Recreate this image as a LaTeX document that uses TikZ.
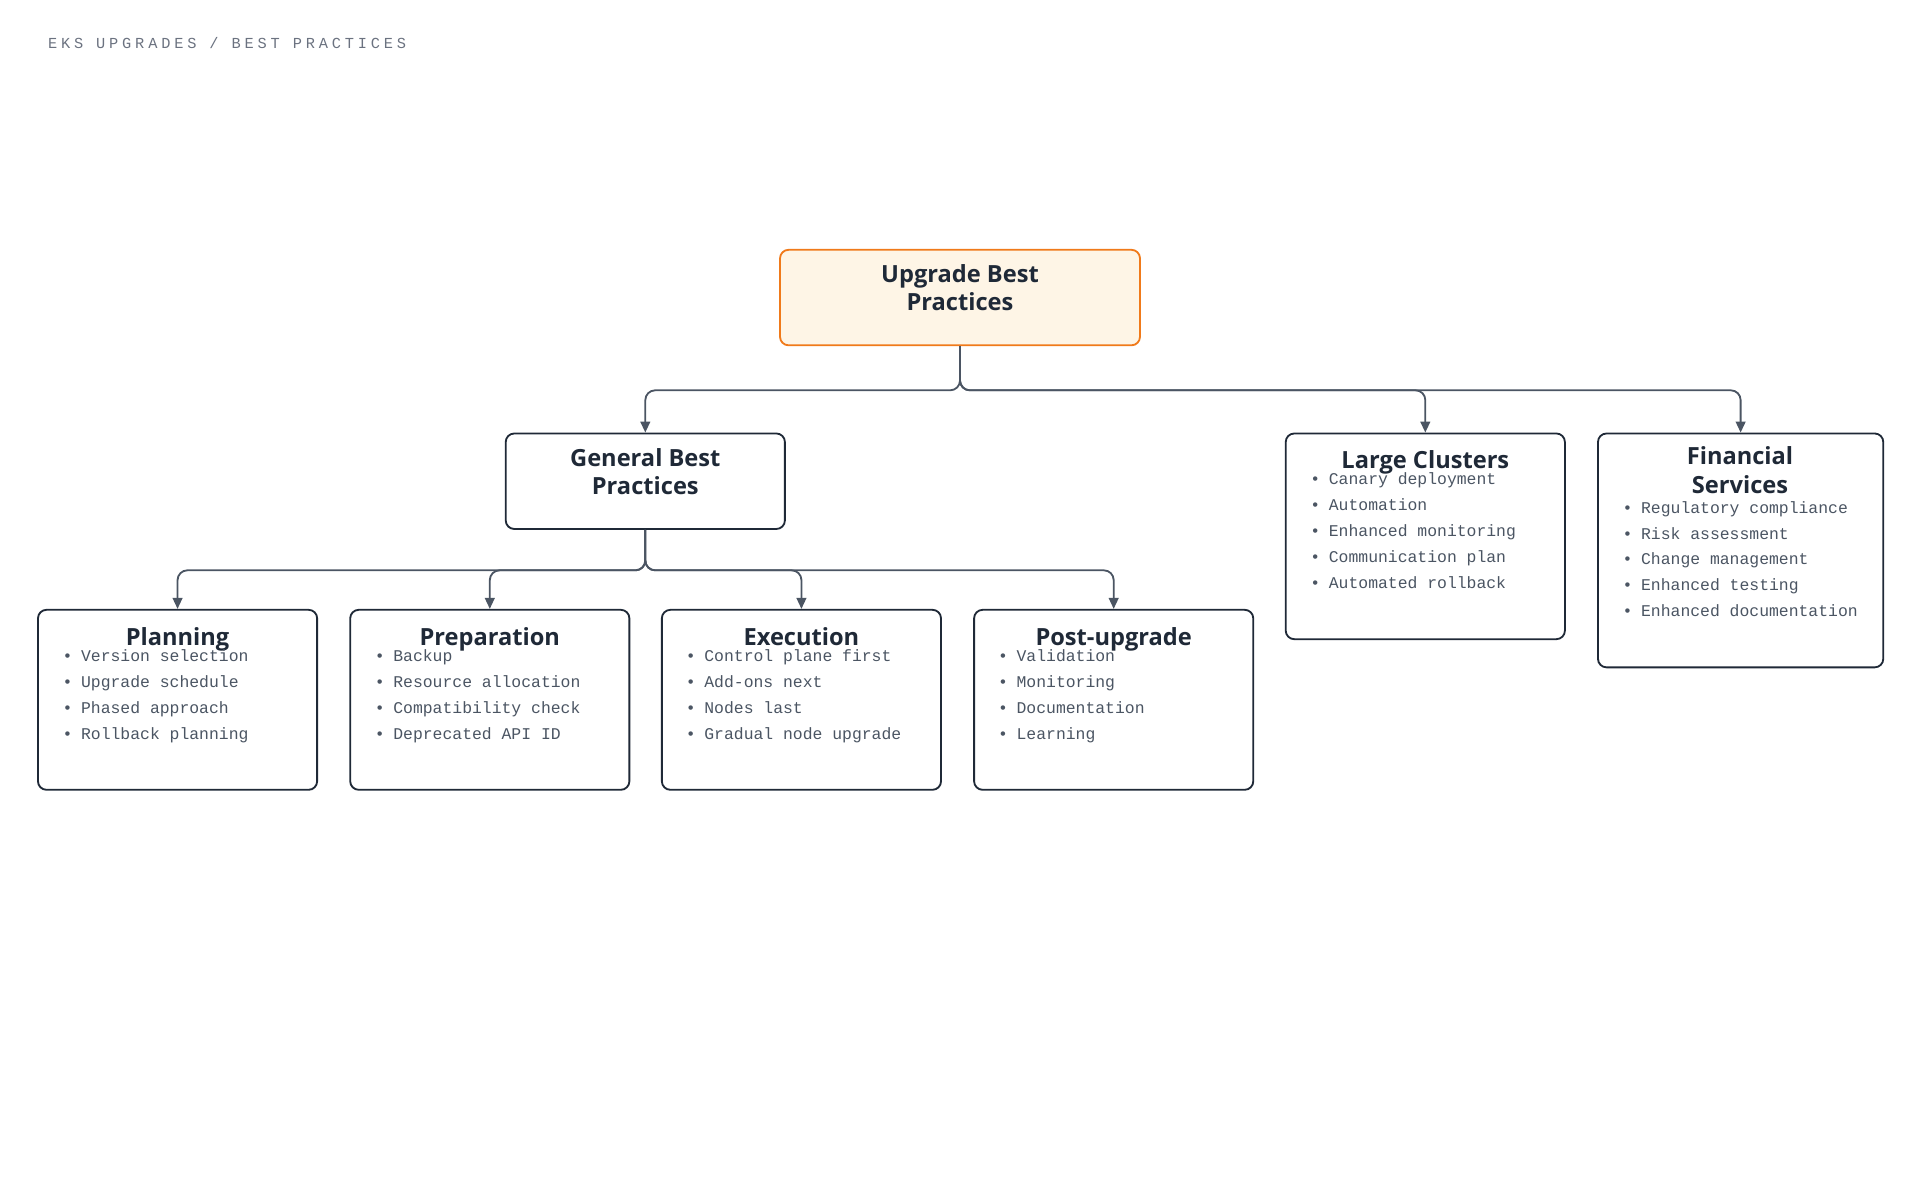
\documentclass[tikz,border=0pt]{standalone}
\usepackage{fontspec}
\setmainfont{Open Sans}
\newfontfamily\monof{Liberation Mono}
\newfontfamily\hdrf{Liberation Mono}[LetterSpace=25]
\usetikzlibrary{arrows.meta}
\definecolor{ink}{HTML}{1F2937}
\definecolor{lnk}{HTML}{4B5563}
\definecolor{txt}{HTML}{4B5563}
\definecolor{hdr}{HTML}{6B7280}
\definecolor{org}{HTML}{F07A1A}
\definecolor{orgfill}{HTML}{FEF5E6}
\begin{document}
\begin{tikzpicture}[x=1pt,y=-1pt,
  box/.style={draw=ink,line width=1.5pt,rounded corners=7pt,fill=white,inner sep=0pt},
  root/.style={box,draw=org,fill=orgfill},
  ttl/.style={font=\bfseries\fontsize{19.3}{23}\selectfont,text=ink,align=center,inner sep=0pt},
  item/.style={font=\monof\fontsize{13.4}{15}\selectfont,text=txt,anchor=base west,inner sep=0pt},
  conn/.style={draw=lnk,line width=1.5pt,rounded corners=8pt,-{Triangle[length=9pt,width=8pt]}}]
\useasboundingbox (0,0) rectangle (1568,980);
\node[font=\hdrf\fontsize{12.5}{14}\selectfont,text=hdr,anchor=west,inner sep=0pt] (hd) at (39,35) {EKS UPGRADES / BEST PRACTICES};
% boxes
\node[root,minimum width=294pt,minimum height=78pt] (top) at (784,243) {};
\node[ttl] (topt) at (784,235) {Upgrade Best\\Practices};
\node[box,minimum width=228pt,minimum height=78pt] (gen) at (527,393) {};
\node[ttl] (gent) at (527,385) {General Best\\Practices};
\node[box,minimum width=228pt,minimum height=168pt] (lar) at (1164,438) {};
\node[ttl,anchor=base] (lart) at (1164,383) {Large Clusters};
\node[box,minimum width=233pt,minimum height=191pt] (fin) at (1421.5,449.5) {};
\node[ttl] (fint) at (1421,384) {Financial\\Services};
\node[box,minimum width=228pt,minimum height=147pt] (pla) at (145,571.5) {};
\node[ttl,anchor=base] (plat) at (145,527) {Planning};
\node[box,minimum width=228pt,minimum height=147pt] (pre) at (400,571.5) {};
\node[ttl,anchor=base] (pret) at (400,527) {Preparation};
\node[box,minimum width=228pt,minimum height=147pt] (exe) at (654.5,571.5) {};
\node[ttl,anchor=base] (exet) at (654.5,527) {Execution};
\node[box,minimum width=228pt,minimum height=147pt] (pos) at (909.5,571.5) {};
\node[ttl,anchor=base] (post) at (909.5,527) {Post-upgrade};
% items
\foreach \t [count=\i] in {Version selection,Upgrade schedule,Phased approach,Rollback planning}
  \node[item] (pl\i) at (51,{540+21.2*(\i-1)}) {•\hspace{7pt}\t};
\foreach \t [count=\i] in {Backup,Resource allocation,Compatibility check,Deprecated API ID}
  \node[item] (pr\i) at (306,{540+21.2*(\i-1)}) {•\hspace{7pt}\t};
\foreach \t [count=\i] in {Control plane first,Add-ons next,Nodes last,Gradual node upgrade}
  \node[item] (ex\i) at (560,{540+21.2*(\i-1)}) {•\hspace{7pt}\t};
\foreach \t [count=\i] in {Validation,Monitoring,Documentation,Learning}
  \node[item] (po\i) at (815,{540+21.2*(\i-1)}) {•\hspace{7pt}\t};
\foreach \t [count=\i] in {Canary deployment,Automation,Enhanced monitoring,Communication plan,Automated rollback}
  \node[item] (la\i) at (1070,{396+21.2*(\i-1)}) {•\hspace{7pt}\t};
\foreach \t [count=\i] in {Regulatory compliance,Risk assessment,Change management,Enhanced testing,Enhanced documentation}
  \node[item] (fi\i) at (1325,{419+21.2*(\i-1)}) {•\hspace{7pt}\t};
% connectors
\foreach \c in {gen,lar,fin}
  \draw[conn] (top.south) -- ++(0,36) -| (\c.north);
\foreach \c in {pla,pre,exe,pos}
  \draw[conn] (gen.south) -- ++(0,33) -| (\c.north);
\end{tikzpicture}
\end{document}
